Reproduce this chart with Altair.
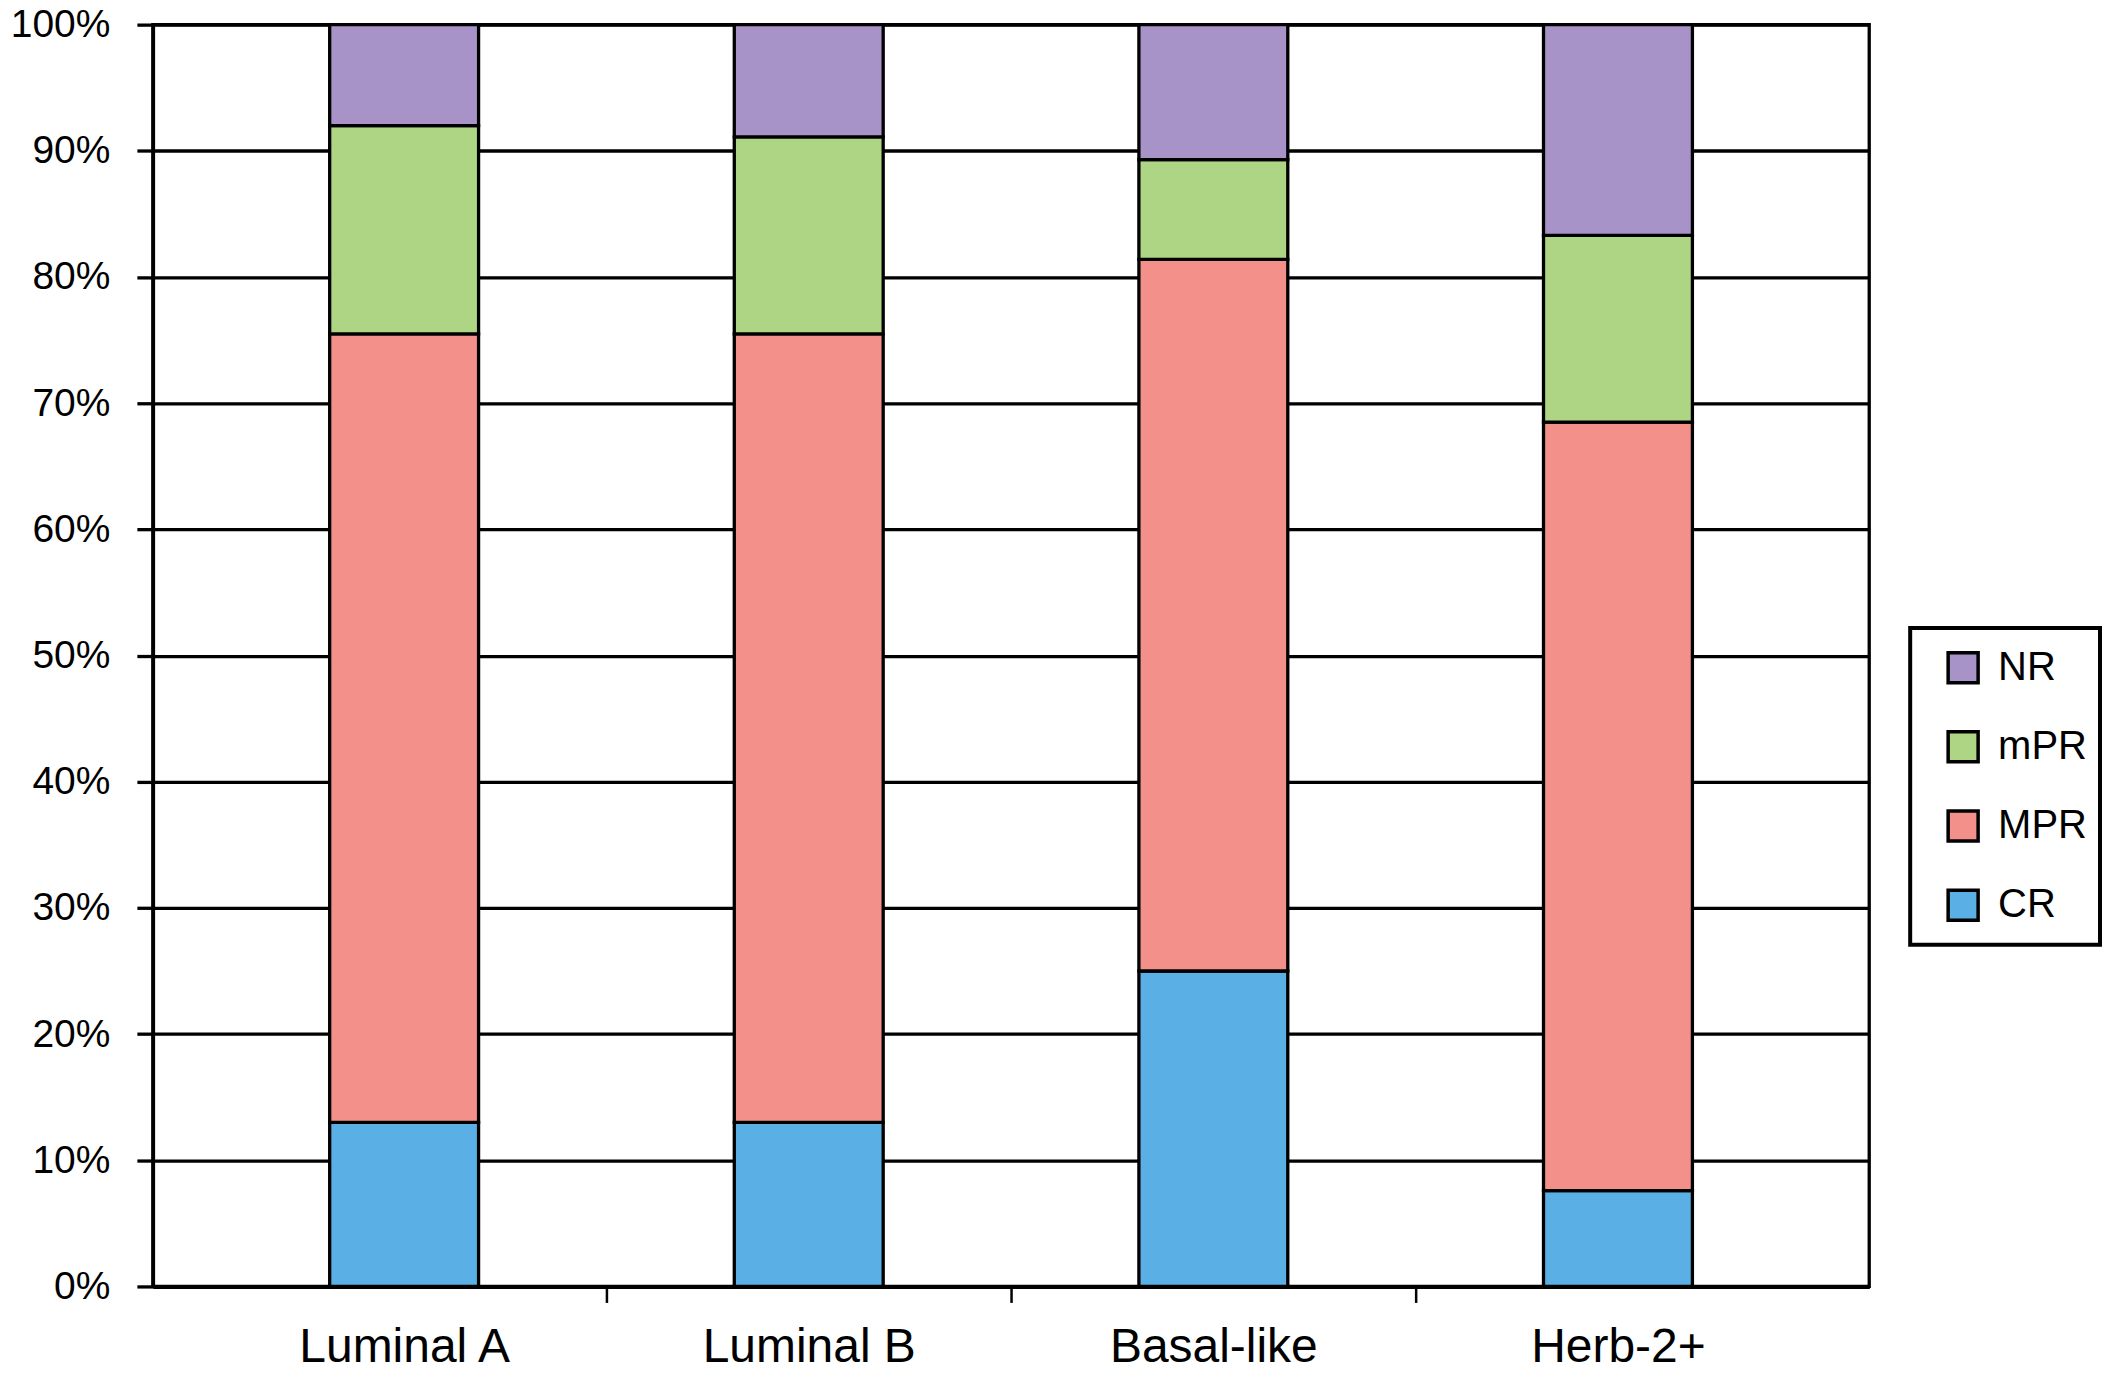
import altair as alt
import pandas as pd

categories = ["Luminal A", "Luminal B", "Basal-like", "Herb-2+"]
responses = ["NR", "mPR", "MPR", "CR"]
colors = ["#A893C8", "#AED583", "#F4908A", "#5AB0E5"]

cr = [13.0, 13.0, 25.0, 7.6]
mpr_major = [62.5, 62.5, 56.4, 60.9]
mpr_minor = [16.5, 15.6, 7.9, 14.8]
nr = [8.0, 8.9, 10.7, 16.7]

rows = []
for i, c in enumerate(categories):
    for r, vals, o in [("CR", cr, 0), ("MPR", mpr_major, 1), ("mPR", mpr_minor, 2), ("NR", nr, 3)]:
        rows.append({"subtype": c, "response": r, "pct": vals[i], "order": o})
df = pd.DataFrame(rows)
legend_df = pd.DataFrame({"response": responses})

pad_inner = 0.632
pad_outer = 0.437
plot_w = 1718
step = plot_w / (len(categories) - pad_inner + 2 * pad_outer)
color_scale = alt.Scale(domain=responses, range=colors)

main = alt.Chart(df).mark_bar(stroke="black", strokeWidth=3.3).encode(
    x=alt.X(
        "subtype:N", sort=categories, title=None,
        scale=alt.Scale(paddingInner=pad_inner, paddingOuter=pad_outer),
        axis=alt.Axis(labelAngle=0, labelFontSize=48, labelColor="black", labelLimit=600,
                      tickOffset=step / 2, labelOffset=-step / 2,
                      tickSize=16, tickWidth=2.5, tickColor="black",
                      tickOpacity=alt.condition(f"datum.value == '{categories[-1]}'",
                                                alt.value(0), alt.value(1)),
                      domainColor="black", domainWidth=4, labelPadding=21, grid=False),
    ),
    y=alt.Y(
        "pct:Q", stack="zero", title=None,
        scale=alt.Scale(domain=[0, 100], nice=False),
        axis=alt.Axis(values=list(range(0, 101, 10)), labelExpr="datum.value + '%'",
                      labelFontSize=39, labelColor="black", labelPadding=27,
                      grid=True, gridColor="black", gridWidth=3.3, gridOpacity=1,
                      tickSize=16, tickWidth=3.3, tickColor="black",
                      domainColor="black", domainWidth=3.5),
    ),
    color=alt.Color("response:N", scale=color_scale, legend=None),
    order=alt.Order("order:Q"),
).properties(
    width=plot_w, height=1263,
    view=alt.ViewBackground(stroke="black", strokeWidth=3.3),
)

legend_y = alt.Y("response:N", sort=responses, axis=None, title=None)
legend_symbols = alt.Chart(legend_df).mark_square(
    size=900, stroke="black", strokeWidth=3.5, opacity=1
).encode(
    x=alt.value(53),
    y=legend_y,
    color=alt.Color("response:N", scale=color_scale, legend=None),
)
legend_labels = alt.Chart(legend_df).mark_text(
    align="left", baseline="middle", fontSize=40, color="black"
).encode(
    x=alt.value(88),
    y=legend_y,
    text="response:N",
)
legend_panel = alt.layer(legend_symbols, legend_labels).properties(
    width=190, height=317,
    view=alt.ViewBackground(stroke="black", strokeWidth=4, fill="white"),
)

spacer = alt.Chart(legend_df).mark_point(opacity=0).properties(
    width=1, height=602, view=alt.ViewBackground(strokeOpacity=0),
)

chart = alt.hconcat(
    main,
    alt.vconcat(spacer, legend_panel, spacing=0),
    spacing=36,
).properties(
    padding={"left": 0, "top": -5, "right": 0, "bottom": 0},
).configure(font="Liberation Sans")

chart.save("out.html", embed_options={"renderer": "svg", "actions": False})
